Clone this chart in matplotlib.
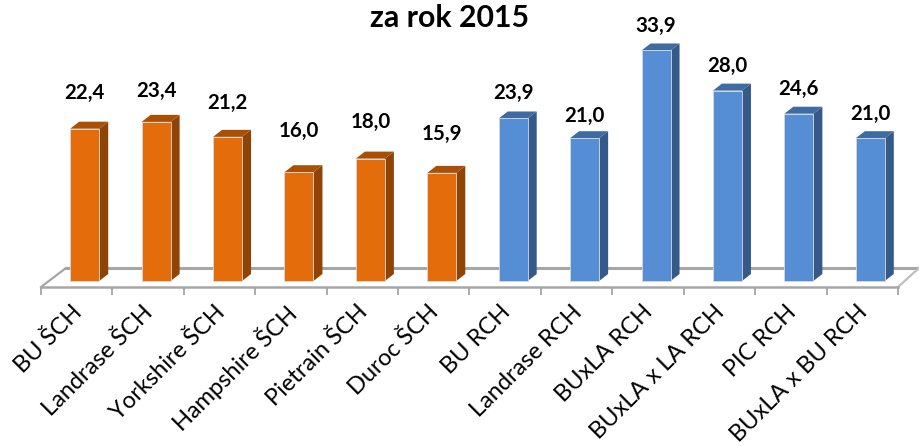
import matplotlib
matplotlib.use('Agg')
import matplotlib.pyplot as plt

plt.rcParams['font.family'] = ['Lato', 'DejaVu Sans']

title = 'za rok 2015'
categories = ['BU ŠCH', 'Landrase ŠCH', 'Yorkshire ŠCH', 'Hampshire ŠCH', 'Pietrain ŠCH', 'Duroc ŠCH',
              'BU RCH', 'Landrase RCH', 'BUxLA RCH', 'BUxLA x LA RCH', 'PIC RCH', 'BUxLA x BU RCH']
values = [22.4, 23.4, 21.2, 16.0, 18.0, 15.9, 23.9, 21.0, 33.9, 28.0, 24.6, 21.0]
groups = ['o', 'o', 'o', 'o', 'o', 'o', 'b', 'b', 'b', 'b', 'b', 'b']

front = {'o': '#e46c0a', 'b': '#558ed5'}
side = {'o': '#8f4406', 'b': '#355a8a'}
top = {'o': '#a95006', 'b': '#3f6ba3'}
# labels were placed by hand in the original, px above each bar
label_gap = [35.5, 31, 34, 41, 36.5, 39, 25.5, 22, 24.5, 25, 25, 24]

W, H = 919, 446
px_per_unit = 6.8
fig = plt.figure(figsize=(W / 100, H / 100), dpi=100)
# axes spans tick row: x 41..898 px, bottom edge on the floor front line (y=287 px)
ax = fig.add_axes([41 / W, (H - 287) / H, (898 - 41) / W, 287 / H])
ax.set_xlim(-0.5, 11.5)
ax.set_ylim(-6 / px_per_unit, (287 - 6) / px_per_unit)
ax.patch.set_alpha(0)

px_x = 12 / (898 - 41)  # data units per pixel in x
px_y = 1 / px_per_unit
dx, dy = 9 * px_x, 7 * px_y
shift = 8 * px_x
width = 29 * px_x

# floor
y_front = -6 * px_y
y_back = 13 * px_y
floor_x = [-0.5, -0.5 + 25 * px_x, 11.5 + 21 * px_x]
ax.plot(floor_x[:2], [y_front, y_back], color='#a6a6a6', lw=1.6, clip_on=False, zorder=1)
ax.plot(floor_x[1:], [y_back, y_back], color='#a6a6a6', lw=2.2, clip_on=False, zorder=1)
ax.plot([11.5, floor_x[2]], [y_front, y_back], color='#bfbfbf', lw=1.6, clip_on=False, zorder=1)

for i, (v, g) in enumerate(zip(values, groups)):
    x0 = i + shift - width / 2
    x1 = i + shift + width / 2
    ax.fill([x1, x1 + dx, x1 + dx, x1], [0, dy, v + dy, v], color=side[g], lw=0, zorder=3)
    ax.fill([x0, x0 + dx, x1 + dx, x1], [v, v + dy, v + dy, v], color=top[g], lw=0, zorder=3)
    ax.bar(i + shift, v, width=width, color=front[g], edgecolor='#d9d9d9', linewidth=0.6, zorder=4)
    ax.annotate(f'{v:.1f}'.replace('.', ','), (i + shift, v), xytext=(0, label_gap[i]),
                textcoords='offset pixels', ha='center', va='center', fontsize=14.8,
                fontweight='bold', color='black', annotation_clip=False)

for s in ['top', 'right', 'left']:
    ax.spines[s].set_visible(False)
ax.spines['bottom'].set_color('#a6a6a6')
ax.spines['bottom'].set_linewidth(1.8)
ax.set_yticks([])
ax.set_xticks([t - 0.5 for t in range(13)])
ax.set_xticklabels([])
ax.tick_params(axis='x', length=6, width=1.3, color='#a6a6a6')

for i, c in enumerate(categories):
    ax.annotate(c, (i + 0.5, y_front), xytext=(-34, -22), textcoords='offset pixels', rotation=45,
                rotation_mode='anchor', ha='right', va='center', fontsize=17, color='black',
                annotation_clip=False)

fig.text(449 / W, 1 - 18 / H, title, ha='center', va='center', fontsize=21.8, fontweight='bold')

fig.savefig('out.png', dpi=100)
